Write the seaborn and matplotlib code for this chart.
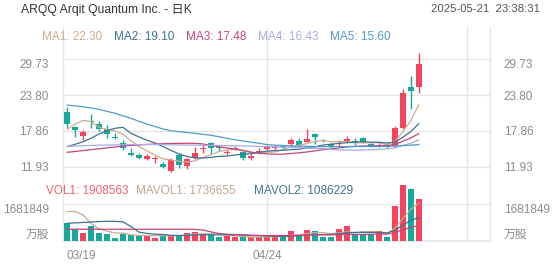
import numpy as np
import pandas as pd
import matplotlib
matplotlib.use("Agg")
import matplotlib.pyplot as plt
import seaborn as sns

# ---------------- data ----------------
title = "ARQQ Arqit Quantum Inc. - 日K"
timestamp = "2025-05-21  23:38:31"
date_labels = ["03/19", "04/24", ""]
date_idx = [0, 25, 50]

opens = [21.05, 18.46, 17.02, 19.45, 18.96, 18.13, 16.80, 15.91, 14.10, 13.87,
         13.20, 13.15, 12.38, 11.20, 13.87, 12.05, 13.32, 14.80, 15.81, 15.05,
         14.25, 14.90, 14.29, 13.32, 14.35, 14.90, 15.00, 15.20, 15.70, 16.19,
         16.07, 17.30, 16.30, 15.64, 15.75, 16.24, 16.19, 16.74, 15.70, 15.40,
         15.45, 15.36, 18.30, 25.14, 25.09]
closes = [19.00, 18.01, 17.73, 19.39, 18.13, 17.30, 16.74, 14.98, 13.95, 13.32,
          13.75, 13.25, 11.93, 13.04, 12.21, 13.16, 14.15, 14.90, 15.08, 14.95,
          14.32, 14.98, 13.32, 13.75, 14.42, 15.20, 15.20, 15.15, 16.36, 15.53,
          16.52, 16.80, 16.24, 15.15, 15.81, 16.46, 15.90, 16.07, 15.36, 15.60,
          15.15, 18.40, 24.20, 24.53, 28.95]
highs = [21.87, 18.73, 18.01, 20.62, 19.50, 18.84, 17.47, 16.36, 14.98, 14.15,
         13.99, 13.70, 12.76, 13.40, 14.15, 13.43, 15.15, 15.53, 16.07, 15.40,
         14.70, 15.35, 14.55, 14.00, 14.98, 15.45, 15.55, 15.53, 16.74, 16.64,
         18.18, 17.47, 16.52, 15.81, 16.36, 17.00, 16.70, 16.90, 15.90, 15.90,
         15.70, 18.68, 24.76, 26.96, 30.72]
lows = [18.35, 16.90, 16.36, 18.30, 17.85, 16.74, 16.47, 14.70, 13.70, 13.16,
        13.04, 12.60, 11.67, 11.10, 11.67, 11.55, 13.20, 14.15, 13.99, 14.55,
        13.80, 14.65, 13.10, 13.10, 13.99, 14.70, 14.75, 14.70, 15.53, 15.25,
        15.98, 15.64, 15.98, 14.86, 15.30, 15.81, 15.60, 15.80, 15.20, 15.20,
        14.98, 15.15, 18.13, 21.44, 24.10]
volumes = [810000, 540000, 354000, 690000, 354000, 322000, 138000, 322000, 276000, 245000,
           245000, 153000, 276000, 276000, 276000, 354000, 430000, 307000, 307000, 169000,
           230000, 170000, 170000, 170000, 200000, 230000, 230000, 200000, 475000, 290000,
           506000, 460000, 200000, 200000, 540000, 690000, 322000, 322000, 322000, 460000,
           200000, 1600000, 2580000, 2400000, 1908563]

# MA values before the window is filled
ma1_head = [18.10, 19.00, 19.60, 19.40]
ma2_head = [15.25, 15.64, 16.07, 16.64, 17.35, 17.90, 18.30, 18.46, 17.47]
ma3_head = [14.32, 14.45, 14.60, 14.75, 14.90, 15.05, 15.20, 15.35, 15.45, 15.55,
            15.62, 15.68, 15.73, 15.78, 15.80, 15.82, 15.80, 15.70, 15.45]
ma4_head = [15.30, 15.35, 15.40, 15.45, 15.50, 15.52, 15.55, 15.57, 15.60, 15.60,
            15.60, 15.60, 15.58, 15.56, 15.54, 15.52, 15.50, 15.48, 15.46, 15.44,
            15.42, 15.40, 15.37, 15.34, 15.30, 15.26, 15.22, 15.18, 15.14]
ma5_line = [22.15, 22.00, 21.87, 21.65, 21.44, 21.10, 20.78, 20.35, 19.95, 19.45,
            19.00, 18.60, 18.18, 17.90, 17.73, 17.60, 17.47, 17.30, 17.13, 16.90,
            16.64, 16.40, 16.19, 16.00, 15.81, 15.60, 15.50, 15.45, 15.40, 15.35,
            15.30, 15.28, 15.26, 15.25, 15.25, 15.26, 15.27, 15.28, 15.30, 15.30,
            15.30, 15.35, 15.43, 15.50, 15.60]
mavol1_head = [1350000, 1350000, 1200000, 800000]
mavol2_head = [810000, 830000, 850000, 870000, 890000, 900000, 900000, 880000, 660000]
mavol3_head = [540000, 540000, 540000, 540000, 540000, 540000, 540000, 540000, 540000,
               540000, 540000, 540000, 540000, 540000, 540000, 540000, 530000, 500000, 420000]

price_ticks = [11.93, 17.86, 23.80, 29.73]
price_tick_labels = ["11.93", "17.86", "23.80", "29.73"]
vol_ticks = [0, 1681849]
vol_tick_labels = ["万股", "1681849"]

ma_names = ["MA1", "MA2", "MA3", "MA4", "MA5"]
ma_values = ["22.30", "19.10", "17.48", "16.43", "15.60"]
vol_names = ["VOL1", "MAVOL1", "MAVOL2"]
vol_values = ["1908563", "1736655", "1086229"]

# ---------------- style ----------------
UP = "#f2455f"
DOWN = "#18a99a"
MA_COLORS = ["#d0a98e", "#3d7391", "#c4457c", "#aaaae4", "#4f9bcc"]
VOL_TXT = ["#ee6270", "#c0a790", "#3d7391"]
VOL_MA_COLORS = ["#d0a98e", "#3d7391", "#c4457c"]
GRID = "#e6e6e6"
LABEL = "#8c8c8c"
LATIN = ["Liberation Sans"]

sns.set_theme(style="white")
plt.rcParams["font.family"] = ["Liberation Sans", "Noto Sans CJK SC", "DejaVu Sans"]

closes_s = pd.Series(closes, dtype=float)
vol_s = pd.Series(volumes, dtype=float)


def with_head(series, window, head):
    out = series.rolling(window).mean().to_numpy()
    out[:len(head)] = head
    return out


ma_lines = [
    with_head(closes_s, 5, ma1_head),
    with_head(closes_s, 10, ma2_head),
    with_head(closes_s, 20, ma3_head),
    with_head(closes_s, 30, ma4_head),
    np.array(ma5_line, dtype=float),
]
vol_ma_lines = [
    with_head(vol_s, 5, mavol1_head),
    with_head(vol_s, 10, mavol2_head),
    with_head(vol_s, 20, mavol3_head),
]

W, H = 552, 265
fig = plt.figure(figsize=(W / 100, H / 100), dpi=100)
fig.patch.set_facecolor("white")


def rect(x0, y0, x1, y1):
    return [x0 / W, 1 - y1 / H, (x1 - x0) / W, (y1 - y0) / H]


axp = fig.add_axes(rect(63, 27, 490, 178))
axv = fig.add_axes(rect(63, 178, 490, 241))

idx = np.arange(len(closes))
o = np.array(opens); c = np.array(closes)
colors = [UP if cc >= oo else DOWN for oo, cc in zip(o, c)]

# ---- price panel ----
axp.vlines(idx, lows, highs, colors=colors, lw=1.0, zorder=3)
body_h = np.maximum(np.abs(c - o), 0.17)
body_b = np.minimum(o, c)
axp.bar(idx, body_h, bottom=body_b, width=0.7, color=colors, linewidth=0, zorder=4)
for line, col in zip(ma_lines, MA_COLORS):
    sns.lineplot(x=idx, y=line, ax=axp, color=col, lw=0.9, legend=False, zorder=5)

axp.set_xlim(-0.5, 52.9)
axp.set_ylim(10.06, 35.08)
axp.set_yticks(price_ticks)
axp.set_yticklabels(price_tick_labels)
axp.set_xticks([])
axp.grid(axis="y", color=GRID, lw=1.0)
axp.grid(axis="x", visible=False)
for xv in date_idx[1:]:
    axp.axvline(xv, color=GRID, lw=1.0, zorder=0)
axp.set_xlabel(""); axp.set_ylabel("")

# ---- volume panel ----
axv.bar(idx, volumes, width=0.7, color=colors, linewidth=0, zorder=3)
for line, col in zip(vol_ma_lines, VOL_MA_COLORS):
    sns.lineplot(x=idx, y=line, ax=axv, color=col, lw=0.9, legend=False, zorder=5)
axv.set_xlim(-0.5, 52.9)
axv.set_ylim(0, 2887000)
axv.set_yticks(vol_ticks)
axv.set_yticklabels(vol_tick_labels)
axv.grid(axis="y", color=GRID, lw=1.0)
axv.grid(axis="x", visible=False)
for xv in date_idx[1:]:
    axv.axvline(xv, color=GRID, lw=1.0, zorder=0)
axv.set_xticks(date_idx)
axv.set_xticklabels(date_labels)
axv.set_xlabel(""); axv.set_ylabel("")

for ax in (axp, axv):
    ax.set_facecolor("none")
    ax.tick_params(axis="y", left=False, right=False, labelleft=True, labelright=True,
                   labelsize=8.5, labelcolor=LABEL, pad=4)
    for s in ("top", "bottom"):
        ax.spines[s].set_visible(False)
    for s in ("left", "right"):
        ax.spines[s].set_visible(True)
        ax.spines[s].set_color(GRID)
        ax.spines[s].set_linewidth(1.0)
axv.spines["bottom"].set_visible(True)
axv.spines["bottom"].set_color(GRID)
axv.tick_params(axis="x", bottom=False, labelsize=8.5, labelcolor=LABEL, pad=0.5)
for lab in axv.get_xticklabels():
    lab.set_fontfamily(LATIN)
axv.get_xticklabels()[0].set_ha("left")

pticks = axp.yaxis.get_major_ticks()
for t in pticks:
    t.label1.set_fontfamily(LATIN)
    t.label2.set_fontfamily(LATIN)
for t in (pticks[-1].label1, pticks[-1].label2):
    t.set_va("top")
vticks = axv.yaxis.get_major_ticks()
for t in (vticks[0].label1, vticks[0].label2):
    t.set_va("bottom")
for t in (vticks[1].label1, vticks[1].label2):
    t.set_va("top")
    t.set_fontfamily(LATIN)

# ---- header texts ----
fig.text(21 / W, 1 - 9.5 / H, title, ha="left", va="center", fontsize=8.7, color="#333333")
fig.text(540 / W, 1 - 9.5 / H, timestamp, ha="right", va="center", fontsize=8.2,
         color="#555555", family=LATIN)

ma_x = [42, 114, 186, 258, 330]
for xpos, name, val, col in zip(ma_x, ma_names, ma_values, MA_COLORS):
    fig.text(xpos / W, 1 - 36.5 / H, f"{name}: {val}", ha="left", va="center",
             fontsize=8.5, color=col, family=LATIN)

vol_x = [46, 136, 254]
for xpos, name, val, col in zip(vol_x, vol_names, vol_values, VOL_TXT):
    fig.text(xpos / W, 1 - 191.5 / H, f"{name}: {val}", ha="left", va="center",
             fontsize=8.5, color=col, family=LATIN)

fig.savefig("out.png", dpi=100, facecolor="white")
